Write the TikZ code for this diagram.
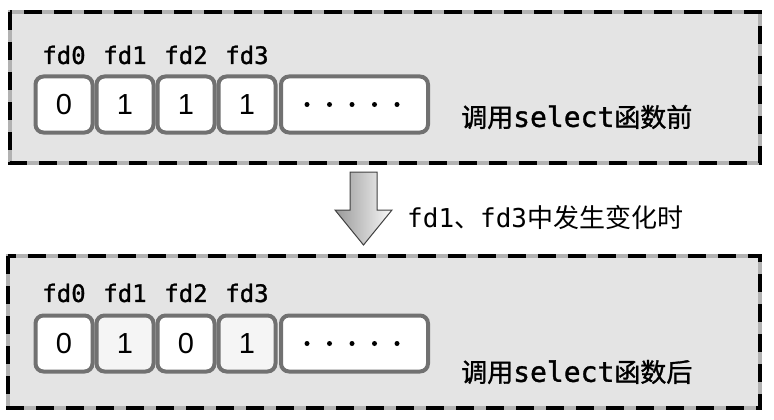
\documentclass[tikz,border=0pt]{standalone}
\usepackage{fontspec}
\setmainfont{Liberation Sans}
\newfontfamily\monof{DejaVu Sans Mono}
\newfontfamily\monom[FakeBold=1.2]{DejaVu Sans Mono}
\newfontfamily\cjkf{Noto Sans CJK SC}
\newfontfamily\cjkm[FakeBold=1.2]{Noto Sans CJK SC}
\definecolor{panelgray}{HTML}{E4E4E4}
\definecolor{cellline}{HTML}{717171}
\begin{document}
\begin{tikzpicture}[x=1pt,y=-1pt,
  panel/.style={fill=panelgray, draw=gray!60, line width=3.5pt},
  paneldash/.style={draw=black, line width=3.5pt, dash pattern=on 18pt off 12pt},
  cell/.style={draw=cellline, fill=white, line width=4pt, rounded corners=8pt,
    minimum width=57pt, minimum height=56pt, inner sep=0pt,
    font=\fontsize{29}{30}\selectfont},
  dotscell/.style={cell, minimum width=147pt},
  fdlabel/.style={inner sep=0pt, font=\monom\fontsize{24}{26}\selectfont},
  caption/.style={inner sep=0pt, anchor=west, font=\cjkf\fontsize{26}{28}\selectfont},
  captionm/.style={caption, font=\cjkm\fontsize{26}{28}\selectfont},
  dotmark/.style={fill=black, circle, inner sep=0pt, minimum size=5pt}]
\useasboundingbox (0,0) rectangle (774,420);
% top panel
\path[panel] (10,12) rectangle (760,163);
\path[paneldash] (10,12) rectangle (760,163);
% bottom panel
\path[panel] (8,256) rectangle (760,408);
\path[paneldash] (8,256) rectangle (760,408);

% top cells
\foreach \i/\x/\v in {0/64/0,1/125/1,2/186/1,3/247/1}{
  \node[cell] (t\i) at (\x,104.5) {\v};
  \node[fdlabel] (tl\i) at (\x,55) {fd\i};
}
\node[dotscell] (td) at (354.5,104.5) {};
\foreach \k/\dx in {1/307,2/329.5,3/352,4/374.5,5/397}{
  \node[dotmark] (tdot\k) at (\dx,104.5) {};
}
\node[captionm] (tc) at (461,117) {调用{\monom\fontsize{28}{28}\selectfont select}函数前};

% arrow
\shade[left color=gray!80, right color=gray!5, draw=gray!50!black, line width=1pt]
  (350,172) -- (377,172) -- (377,210) -- (392,210) -- (363.5,245) -- (335,210) -- (350,210) -- cycle;
\node[caption] (mc) at (407,218) {{\monof\fontsize{26}{28}\selectfont fd1}、{\monof\fontsize{26}{28}\selectfont fd3}中发生变化时};

% bottom cells
\foreach \i/\x/\v/\f in {0/64/0/white,1/125/1/gray!8,2/186/0/white,3/247/1/gray!8}{
  \node[cell, fill=\f] (b\i) at (\x,343.5) {\v};
  \node[fdlabel] (bl\i) at (\x,293) {fd\i};
}
\node[dotscell] (bd) at (354.5,343.5) {};
\foreach \k/\dx in {1/307,2/329.5,3/352,4/374.5,5/397}{
  \node[dotmark] (bdot\k) at (\dx,343.5) {};
}
\node[captionm] (bc) at (461,372) {调用{\monom\fontsize{28}{28}\selectfont select}函数后};
\end{tikzpicture}
\end{document}
